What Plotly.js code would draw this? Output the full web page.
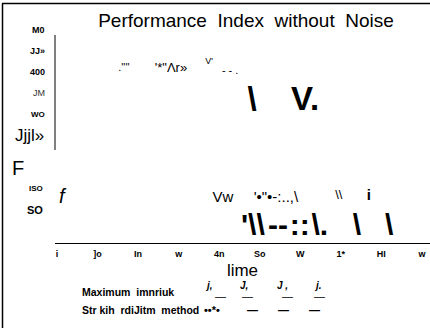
<!DOCTYPE html>
<html><head><meta charset="utf-8">
<script src="https://cdn.plot.ly/plotly-3.0.1.min.js"></script>
<style>html,body{margin:0;padding:0;background:#fff}#chart{width:430px;height:328px}</style>
</head><body><div id="chart"></div>
<script>
// ---- content ----
const titleText = 'Performance  Index  without  Noise';
const xTitleText = 'lime';
const xTickVals = [0, 10, 20, 30, 40, 50, 60, 70, 80, 90];
const xTickText = ['i', ']o', 'In', 'w', '4n', 'So', 'W', '1*', 'HI', 'w'];
const yTickVals = [500, 450, 400, 350, 300, 250, 200, 150, 100];
const yTickText = ['M0', 'JJ»', '400', 'JM', 'WO', 'Jjjl»', 'F', 'ISO', 'SO'];
const seriesNames = ['Maximum  imnriuk', 'Str kih  rdiJitm  method'];

// series 1 glyph marks
const s1X = [16.5, 28.1, 37.5, 42.7, 48.1, 61.2, 1.2, 40.9, 54.0, 69.5, 76.9];
const s1Y = [408, 408, 424, 403, 329, 329, 100, 100, 100, 105, 105];
const s1Text = [".''''", "'*\"Λr»", "V'", "- - .", "\\", "V.", "f", "Vw", "'•\"•-:..,\\", "\\\\", "i"];
// series 2 glyph marks
const s2X = [48.3, 54.5, 59.9, 64.8, 74.0, 81.9];
const s2Y = [31, 31, 31, 31, 31, 31];
const s2Text = ["'\\\\", "--", "::", "\\.", "\\", "\\"];

// legend sample glyphs
const legendSym1 = ['j,', 'J,', 'J ,', 'j.'];
const legendDash1 = ['—', '—', '—', '—'];
const legendSym2 = ['••*•', '—', '—', '—'];

// ---- styles / positions ----
const FONT = 'Liberation Sans, Arial, sans-serif';
const s1Size = [11, 13, 9, 11, 33, 33, 20, 15, 15, 13, 15];
const s1Weight = ['normal','normal','normal','normal','bold','bold','normal','normal','normal','normal','bold'];
const s1Style = ['normal','normal','normal','normal','normal','normal','italic','normal','normal','normal','normal'];
const s2Size = [30, 30, 30, 30, 30, 30];

const yLabStyle = [
  {size: 9, weight: 'bold', x: 47, shift: 0, anchor: 'right', color: '#000'},
  {size: 9, weight: 'bold', x: 47, shift: 0, anchor: 'right', color: '#000'},
  {size: 9, weight: 'bold', x: 47, shift: 0, anchor: 'right', color: '#000'},
  {size: 9, weight: 'normal', x: 47, shift: 0, anchor: 'right', color: '#333'},
  {size: 8, weight: 'bold', x: 47, shift: 0, anchor: 'right', color: '#000'},
  {size: 17, weight: 'normal', x: 46, shift: 0, anchor: 'right', color: '#000'},
  {size: 20, weight: 'normal', x: 10, shift: -12, anchor: 'left', color: '#000'},
  {size: 8, weight: 'bold', x: 45, shift: -11, anchor: 'right', color: '#000'},
  {size: 11, weight: 'bold', x: 45, shift: -12, anchor: 'right', color: '#000'}
];
const PL = 55, PW = 375, PT = 30, PH = 213;
const px2x = p => (p - PL) / PW;
const py2y = p => (PT + PH - p) / PH;

const traces = [
  {type: 'scatter', mode: 'text', name: seriesNames[0], x: s1X, y: s1Y, text: s1Text,
   textposition: 'middle center', cliponaxis: false, showlegend: false, hoverinfo: 'skip',
   textfont: {family: FONT, size: s1Size, color: '#000', weight: s1Weight, style: s1Style}},
  {type: 'scatter', mode: 'text', name: seriesNames[1], x: s2X, y: s2Y, text: s2Text,
   textposition: 'middle center', cliponaxis: false, showlegend: false, hoverinfo: 'skip',
   textfont: {family: FONT, size: s2Size, color: '#000', weight: 'bold'}}
];

const annotations = [];
yTickText.forEach((t, i) => {
  const st = yLabStyle[i];
  annotations.push({text: t, xref: 'paper', yref: 'y', x: px2x(st.x), y: yTickVals[i],
    xanchor: st.anchor, yanchor: 'middle', yshift: st.shift, showarrow: false,
    font: {family: FONT, size: st.size, weight: st.weight, color: st.color}});
});
// legend
const legRowY = [292, 310];
seriesNames.forEach((n, i) => {
  annotations.push({text: n, xref: 'paper', yref: 'paper', x: px2x(80), y: py2y(legRowY[i]),
    xanchor: 'left', yanchor: 'middle', showarrow: false,
    font: {family: FONT, size: 10.5, weight: 'bold', color: '#000'}});
});
const sym1X = [209, 244, 282, 318];
const dash1X = [220, 247, 287, 319];
legendSym1.forEach((t, i) => {
  annotations.push({text: t, xref: 'paper', yref: 'paper', x: px2x(sym1X[i]), y: py2y(285),
    xanchor: 'center', yanchor: 'middle', showarrow: false,
    font: {family: FONT, size: 10, weight: 'bold', style: 'italic', color: '#000'}});
  annotations.push({text: legendDash1[i], xref: 'paper', yref: 'paper', x: px2x(dash1X[i]), y: py2y(296),
    xanchor: 'center', yanchor: 'middle', showarrow: false,
    font: {family: FONT, size: 11, color: '#000'}});
});
const sym2X = [212, 252, 283, 314];
legendSym2.forEach((t, i) => {
  annotations.push({text: t, xref: 'paper', yref: 'paper', x: px2x(sym2X[i]), y: py2y(310),
    xanchor: 'center', yanchor: 'middle', showarrow: false,
    font: {family: FONT, size: 11, weight: 'bold', color: '#000'}});
});

const layout = {
  width: 430, height: 328,
  margin: {l: PL, r: 0, t: PT, b: 328 - PT - PH, pad: 0},
  paper_bgcolor: '#fff', plot_bgcolor: '#fff',
  font: {family: FONT, color: '#000'},
  title: {text: titleText, font: {family: FONT, size: 19, color: '#000'},
          x: 246 / 430, xanchor: 'center', y: 1 - 20 / 328, yanchor: 'middle', xref: 'container', yref: 'container'},
  xaxis: {range: [-0.5, 92], tickvals: xTickVals, ticktext: xTickText, ticks: '',
          showline: true, linecolor: '#000', linewidth: 1, showgrid: false, zeroline: false,
          ticklabelstandoff: 2,
          tickfont: {family: FONT, size: 9, weight: 'bold', color: '#000'},
          title: {text: xTitleText, font: {family: FONT, size: 17, color: '#000'}, standoff: 6}},
  yaxis: {range: [-7, 500], showline: false, showticklabels: false, ticks: '',
          showgrid: false, zeroline: false},
  showlegend: false,
  annotations: annotations,
  shapes: [
    {type: 'line', xref: 'paper', yref: 'paper', x0: 0, x1: 0, y0: py2y(150), y1: py2y(35),
     line: {color: '#000', width: 1}},
    {type: 'line', xref: 'paper', yref: 'paper', x0: px2x(2), x1: 1, y0: py2y(3.5), y1: py2y(3.5),
     line: {color: '#000', width: 1.5}},
    {type: 'line', xref: 'paper', yref: 'paper', x0: px2x(2.5), x1: px2x(2.5), y0: py2y(3.5), y1: py2y(330),
     line: {color: '#000', width: 1.5}}
  ]
};
Plotly.newPlot('chart', traces, layout, {displayModeBar: false, staticPlot: true});
</script></body></html>
